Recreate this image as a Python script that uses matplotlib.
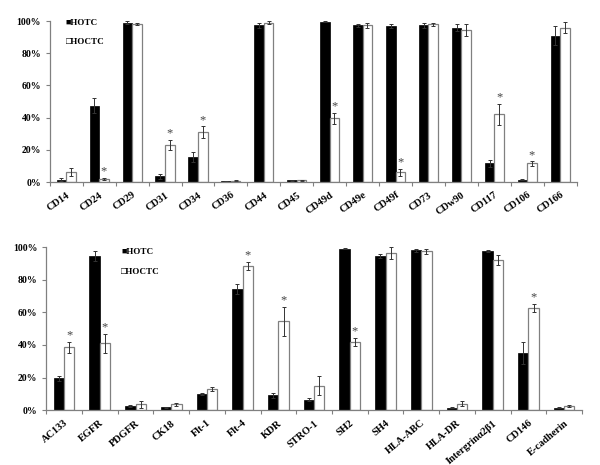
import numpy as np
import matplotlib
matplotlib.use("Agg")
import matplotlib.pyplot as plt
from matplotlib.ticker import FuncFormatter, MultipleLocator

plt.rcParams['font.family'] = ['Liberation Serif', 'DejaVu Serif']
plt.rcParams['font.weight'] = 'bold'

# top panel
top_labels = ["CD14", "CD24", "CD29", "CD31", "CD34", "CD36", "CD44", "CD45",
              "CD49d", "CD49e", "CD49f", "CD73", "CDw90", "CD117", "CD106", "CD166"]
top_hotc = [1.5, 47.5, 99, 3.5, 15.5, 0.5, 97.5, 1, 99.5, 97.5, 97, 97.5, 96, 11.5, 1.5, 91]
top_hotc_err = [1, 4.5, 1, 1.5, 3, 0.2, 1.5, 0.2, 0.3, 1, 1, 1.5, 2, 2, 0.3, 6]
top_hoctc = [6, 2, 98, 23, 31, 0.8, 99, 1, 39.5, 97.5, 6, 98, 94.5, 42, 11.5, 96]
top_hoctc_err = [2.5, 0.5, 0.7, 3, 3.5, 0.2, 1, 0.3, 3.5, 1.5, 2, 1, 3.5, 6.5, 1.3, 3.5]
top_star = [1, 3, 4, 8, 10, 13, 14]

# bottom panel
bot_labels = ["AC133", "EGFR", "PDGFR", "CK18", "Flt-1", "Flt-4", "KDR", "STRO-1",
              "SH2", "SH4", "HLA-ABC", "HLA-DR", "Intergrin\u03b12\u03b21", "CD146", "E-cadherin"]
bot_hotc = [19.5, 94.5, 2.5, 1.8, 10, 74.5, 9, 6.5, 99, 94.5, 98, 1.5, 97.5, 35, 1.5]
bot_hotc_err = [1.5, 3, 0.5, 0.3, 0.8, 3, 1.5, 0.8, 0.3, 1, 1, 0.3, 0.5, 6.5, 0.3]
bot_hoctc = [38.5, 41, 3.5, 3.5, 13, 88.5, 54.5, 15, 42, 96.5, 97.5, 4, 92, 62.5, 2.5]
bot_hoctc_err = [3.5, 6, 2, 1, 1.2, 2.5, 9, 6, 2.5, 3.5, 1.5, 1.5, 3, 2.5, 0.8]
bot_star = [0, 1, 5, 6, 8, 13]

grey = "#808080"


def draw_panel(ax, labels, hotc, hotc_err, hoctc, hoctc_err, stars, rot, leg_xy):
    n = len(labels)
    x = np.arange(n)
    w = 0.29
    ax.bar(x - w / 2, hotc, w, color="black", edgecolor="black", linewidth=0.5,
           yerr=hotc_err, ecolor="#333333", error_kw=dict(elinewidth=0.7, capsize=1.5, capthick=0.7))
    ax.bar(x + w / 2, hoctc, w, color="white", edgecolor=grey, linewidth=0.9,
           yerr=hoctc_err, ecolor="#333333", error_kw=dict(elinewidth=0.7, capsize=1.5, capthick=0.7))
    for i in stars:
        ax.text(x[i] + w / 2, hoctc[i] + hoctc_err[i] + 0.3, "*", ha="center", va="bottom",
                fontsize=9, color="#444444", fontweight="normal")
    ax.set_xlim(-0.5, n - 0.5)
    ax.set_ylim(0, 100)
    ax.yaxis.set_major_locator(MultipleLocator(20))
    ax.yaxis.set_major_formatter(FuncFormatter(lambda v, p: f"{int(v)}%"))
    ax.set_xticks(x)
    ax.set_xticklabels(labels, rotation=rot, ha="right", rotation_mode="anchor", fontsize=7.5)
    ax.set_xticks(np.arange(n + 1) - 0.5, minor=True)
    ax.tick_params(axis="x", which="major", length=0, pad=6)
    ax.tick_params(axis="x", which="minor", length=3, color=grey, width=0.8)
    ax.tick_params(axis="y", labelsize=7, length=3, color=grey, width=0.8)
    for s in ["top", "right"]:
        ax.spines[s].set_visible(False)
    for s in ["left", "bottom"]:
        ax.spines[s].set_color(grey)
        ax.spines[s].set_linewidth(0.9)
    ax.text(leg_xy[0], leg_xy[1], "\u25a0HOTC", transform=ax.transAxes, fontsize=6.5,
            va="center", fontweight="bold")
    ax.text(leg_xy[0], leg_xy[1] - 0.12, "\u25a1HOCTC", transform=ax.transAxes, fontsize=6.5,
            va="center", fontweight="bold")


fig = plt.figure(figsize=(6, 4.65), dpi=100)
ax1 = fig.add_axes([0.083, 0.6086, 0.878, 0.346])
ax2 = fig.add_axes([0.077, 0.118, 0.893, 0.3505])

draw_panel(ax1, top_labels, top_hotc, top_hotc_err, top_hoctc, top_hoctc_err, top_star, 35, (0.03, 0.99))
draw_panel(ax2, bot_labels, bot_hotc, bot_hotc_err, bot_hoctc, bot_hoctc_err, bot_star, 40, (0.14, 0.97))

fig.savefig("out.png", dpi=100)
